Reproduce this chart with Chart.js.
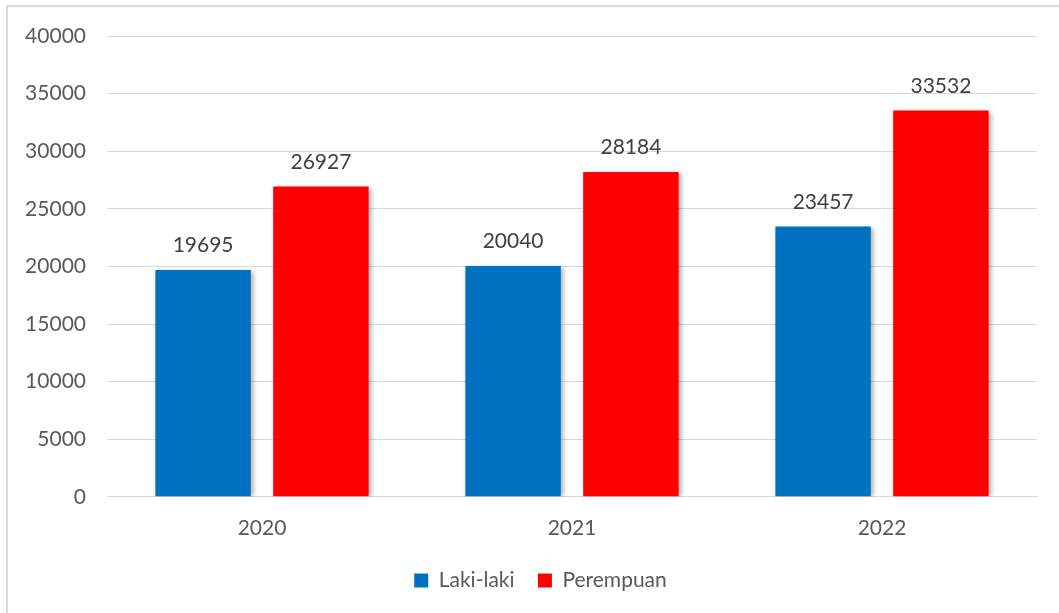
<!DOCTYPE html>
<html>
<head>
<meta charset="utf-8">
<script src="https://cdn.jsdelivr.net/npm/chart.js@4"></script>
<style>
  body { margin: 0; background: #fff; }
  #wrap { width: 1059px; height: 613px; }
</style>
</head>
<body>
<div id="wrap"><canvas id="chart-main" width="1059" height="613"></canvas></div>
<script>
// data
const tahun = ["2020", "2021", "2022"];
const lakiLaki = [19695, 20040, 23457];
const perempuan = [26927, 28184, 33532];
const seriesNames = ["Laki-laki", "Perempuan"];

const textColor = "#595959";
const fontFamily = "Lato, 'Open Sans', sans-serif";

// frame around the whole chart
const chartFrame = {
  id: "chartFrame",
  beforeDraw(chart) {
    const { ctx } = chart;
    ctx.save();
    ctx.fillStyle = "#fff";
    ctx.fillRect(0, 0, chart.width, chart.height);
    ctx.strokeStyle = "#d9d9d9";
    ctx.lineWidth = 2;
    ctx.strokeRect(7, 6, chart.width + 10, chart.height + 10);
    ctx.restore();
  },
};

// legend sits a bit right of the canvas centre in the original
const legendNudge = {
  id: "legendNudge",
  afterLayout(chart) {
    chart.legend.left += 44;
  },
};

// soft shadow under the bars
const barShadow = {
  id: "barShadow",
  beforeDatasetsDraw(chart) {
    const { ctx } = chart;
    ctx.save();
    ctx.shadowColor = "rgba(0, 0, 0, 0.35)";
    ctx.shadowBlur = 5;
    ctx.shadowOffsetX = 2;
    ctx.shadowOffsetY = 1;
  },
  afterDatasetsDraw(chart) {
    chart.ctx.restore();
  },
};

// value labels above each bar
const valueLabels = {
  id: "valueLabels",
  afterDatasetsDraw(chart) {
    const { ctx } = chart;
    ctx.save();
    ctx.font = "21px " + fontFamily;
    ctx.fillStyle = "#404040";
    ctx.textAlign = "center";
    ctx.textBaseline = "alphabetic";
    chart.data.datasets.forEach((ds, i) => {
      chart.getDatasetMeta(i).data.forEach((bar, j) => {
        ctx.fillText(ds.data[j], bar.x, bar.y - 18);
      });
    });
    ctx.restore();
  },
};

const ctx = document.querySelector("#chart-main").getContext("2d");
const myChart = new Chart(ctx, {
  type: "bar",
  data: {
    labels: tahun,
    datasets: [
      {
        label: seriesNames[0],
        data: lakiLaki,
        backgroundColor: "#0070c0",
        categoryPercentage: 0.76,
        barPercentage: 0.81,
      },
      {
        label: seriesNames[1],
        data: perempuan,
        backgroundColor: "#ff0000",
        categoryPercentage: 0.76,
        barPercentage: 0.81,
      },
    ],
  },
  options: {
    responsive: false,
    animation: false,
    layout: {
      padding: { left: 0, right: 22, top: 36, bottom: 12 },
    },
    scales: {
      x: {
        grid: { display: false },
        border: { display: true, color: "#d9d9d9", width: 1 },
        ticks: {
          color: textColor,
          font: { family: fontFamily, size: 21 },
          padding: 11,
        },
      },
      y: {
        min: 0,
        max: 40000,
        afterFit: (scale) => {
          scale.width = 107;
        },
        border: { display: false },
        grid: { color: "#d9d9d9", lineWidth: 1, drawTicks: false },
        ticks: {
          stepSize: 5000,
          color: textColor,
          font: { family: fontFamily, size: 21 },
          padding: 21,
          callback: (value) => String(value),
        },
      },
    },
    plugins: {
      legend: {
        position: "bottom",
        labels: {
          boxWidth: 14,
          boxHeight: 14,
          padding: 18,
          color: textColor,
          font: { family: fontFamily, size: 21 },
          // a little more room between the two items
          generateLabels: (chart) => {
            const items = Chart.defaults.plugins.legend.labels.generateLabels(chart);
            items.forEach((item, i) => {
              if (i < items.length - 1) item.text = item.text + " ";
            });
            return items;
          },
        },
      },
      tooltip: { enabled: false },
    },
  },
  plugins: [chartFrame, legendNudge, barShadow, valueLabels],
});
</script>
</body>
</html>
